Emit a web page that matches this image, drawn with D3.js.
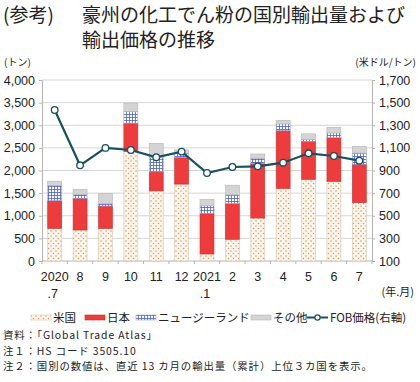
<!DOCTYPE html>
<html><head><meta charset="utf-8">
<script src="https://cdn.jsdelivr.net/npm/d3@7"></script>
<style>
body{margin:0;background:#fff;}
text{font-family:"Noto Sans CJK JP","Noto Sans",sans-serif;fill:#222;}
</style></head>
<body><svg id="c" width="420" height="382"></svg>
<script>
const categories = ["2020\n.7","8","9","10","11","12","2021\n.1","2","3","4","5","6","7"];
const usa   = [720, 685, 720, 2420, 1550, 1700, 155, 480, 950, 1605, 1805, 1760, 1290];
const japan = [615, 700, 495, 625, 420, 590, 890, 790, 1210, 1275, 835, 965, 850];
const nz    = [330, 90, 50, 260, 315, 90, 175, 190, 110, 150, 50, 105, 245];
const other = [100, 110, 230, 185, 315, 75, 140, 215, 95, 80, 120, 125, 150];
const fob   = [1435, 946, 1100, 1081, 1017, 1067, 878, 931, 937, 969, 1052, 1028, 987];
const leftTicks = [0,500,1000,1500,2000,2500,3000,3500,4000];
const rightTicks = [100,300,500,700,900,1100,1300,1500,1700];
const seriesNames = ["米国","日本","ニュージーランド","その他"];

const svg = d3.select("#c");
const defs = svg.append("defs");
const pu = defs.append("pattern").attr("id","pUS").attr("patternUnits","userSpaceOnUse").attr("width",5).attr("height",5);
pu.append("rect").attr("width",5).attr("height",5).attr("fill","#fcf5ea");
pu.append("circle").attr("cx",1).attr("cy",1).attr("r",0.75).attr("fill","#c79a72");
pu.append("circle").attr("cx",3.5).attr("cy",3.5).attr("r",0.75).attr("fill","#c79a72");
const pn = defs.append("pattern").attr("id","pNZ").attr("patternUnits","userSpaceOnUse").attr("width",3).attr("height",3);
pn.append("rect").attr("width",3).attr("height",3).attr("fill","#ffffff");
pn.append("path").attr("d","M0,0.5H3M0.5,0V3").attr("stroke","#4a5fc8").attr("stroke-width",0.8);

const x0 = 42, x1 = 372, yTop = 80, yBot = 261;
const x = d3.scaleBand().domain(d3.range(categories.length)).range([x0,x1]).paddingInner(0.45).paddingOuter(0.225);
const y = d3.scaleLinear().domain([0,4000]).range([yBot,yTop]);
const y2 = d3.scaleLinear().domain([100,1700]).range([yBot,yTop]);

// grid
svg.append("g").selectAll("line").data(leftTicks.slice(1)).join("line")
  .attr("x1",x0).attr("x2",x1).attr("y1",d=>y(d)).attr("y2",d=>y(d))
  .attr("stroke","#d6d6d6").attr("stroke-width",1);

// left axis
const la = svg.append("g").attr("transform",`translate(${x0},0)`)
  .call(d3.axisLeft(y).tickValues(leftTicks).tickFormat(d3.format(",")).tickSize(3).tickPadding(4));
la.select(".domain").attr("stroke","#b5b5b5");
la.selectAll(".tick line").attr("stroke","#b5b5b5");
la.selectAll("text").attr("font-size",12.5).style("font-family","Liberation Sans, Arial, sans-serif").attr("fill","#222");

const ra = svg.append("g").attr("transform",`translate(${x1},0)`)
  .call(d3.axisRight(y2).tickValues(rightTicks).tickFormat(d3.format(",")).tickSize(3).tickPadding(4));
ra.select(".domain").attr("stroke","#b5b5b5");
ra.selectAll(".tick line").attr("stroke","#b5b5b5");
ra.selectAll("text").attr("font-size",12.5).style("font-family","Liberation Sans, Arial, sans-serif").attr("fill","#222");

// bottom axis
const step = x.step();
svg.append("line").attr("x1",x0).attr("x2",x1).attr("y1",yBot).attr("y2",yBot).attr("stroke","#b5b5b5");
svg.append("g").selectAll("line").data(d3.range(categories.length+1)).join("line")
  .attr("x1",i=>x0+i*step).attr("x2",i=>x0+i*step).attr("y1",yBot).attr("y2",yBot+3).attr("stroke","#b5b5b5");
const xl = svg.append("g").selectAll("text").data(categories).join("text")
  .attr("text-anchor","middle").attr("font-size",12.5)
  .style("font-family","Liberation Sans, Arial, sans-serif");
xl.each(function(d,i){
  const parts = d.split("\n");
  const cx = x(i)+x.bandwidth()/2;
  parts.forEach((p,k)=>{
    d3.select(this).append("tspan").attr("x", cx + (k===1? -2:0)).attr("y", 281 + k*17).text(p);
  });
});

// stacked bars
const data = categories.map((c,i)=>({i, us:usa[i], jp:japan[i], nz:nz[i], ot:other[i]}));
const stack = d3.stack().keys(["us","jp","nz","ot"])(data);
const fills = {us:"url(#pUS)", jp:"#ee3b3b", nz:"url(#pNZ)", ot:"#d4d4d4"};
const strokes = {us:"#d9c7b0", jp:"#c93030", nz:"#9aa6d8", ot:"#b5b5b5"};
svg.append("g").selectAll("g").data(stack).join("g")
  .attr("fill",s=>fills[s.key]).attr("stroke",s=>strokes[s.key]).attr("stroke-width",0.6)
  .selectAll("rect").data(s=>s).join("rect")
  .attr("x",d=>x(d.data.i)).attr("width",x.bandwidth())
  .attr("y",d=>y(d[1])).attr("height",d=>y(d[0])-y(d[1]));

// FOB line
const line = d3.line().x((d,i)=>x(i)+x.bandwidth()/2).y(d=>y2(d));
svg.append("path").datum(fob).attr("d",line).attr("fill","none").attr("stroke","#17505e").attr("stroke-width",2.2);
svg.append("g").selectAll("circle").data(fob).join("circle")
  .attr("cx",(d,i)=>x(i)+x.bandwidth()/2).attr("cy",d=>y2(d)).attr("r",3.3)
  .attr("fill","#fff").attr("stroke","#17505e").attr("stroke-width",1.3);

// titles
svg.append("text").attr("x",3).attr("y",22).attr("font-size",19).text("(参考)");
svg.append("text").attr("x",82).attr("y",22).attr("font-size",19).text("豪州の化工でん粉の国別輸出量および");
svg.append("text").attr("x",82).attr("y",47).attr("font-size",19).text("輸出価格の推移");
svg.append("text").attr("x",4).attr("y",66).attr("font-size",10).text("(トン)");
svg.append("text").attr("x",416).attr("y",66).attr("font-size",10).attr("text-anchor","end").text("(米ドル/トン)");
svg.append("text").attr("x",414).attr("y",296).attr("font-size",11).attr("text-anchor","end").text("(年.月)");

// legend
const lg = svg.append("g").attr("font-size",11.5);
const legendItems = [
  {x:31, name:seriesNames[0], fill:"url(#pUS)", stroke:"#d9c7b0"},
  {x:85, name:seriesNames[1], fill:"#ee3b3b", stroke:"#c93030"},
  {x:136, name:seriesNames[2], fill:"url(#pNZ)", stroke:"#9aa6d8"},
  {x:251, name:seriesNames[3], fill:"#d4d4d4", stroke:"#b5b5b5"}
];
legendItems.forEach(it=>{
  lg.append("rect").attr("x",it.x).attr("y",315).attr("width",20).attr("height",5).attr("fill",it.fill).attr("stroke",it.stroke).attr("stroke-width",0.6);
  lg.append("text").attr("x",it.x+22).attr("y",322).text(it.name);
});
lg.append("line").attr("x1",307).attr("x2",328).attr("y1",317.5).attr("y2",317.5).attr("stroke","#17505e").attr("stroke-width",2);
lg.append("circle").attr("cx",317.5).attr("cy",317.5).attr("r",2.6).attr("fill","#fff").attr("stroke","#17505e").attr("stroke-width",1.2);
lg.append("text").attr("x",330).attr("y",322).text("FOB価格(右軸)");

// notes
const notes = ["資料：「Global Trade Atlas」","注１：HS コード 3505.10","注２：国別の数値は、直近 13 カ月の輸出量（累計）上位３カ国を表示。"];
svg.append("g").selectAll("text").data(notes).join("text")
  .attr("x",3).attr("y",(d,i)=>339+i*15.5).attr("font-size",10.4).attr("letter-spacing",0.9).text(d=>d);
</script></body></html>
